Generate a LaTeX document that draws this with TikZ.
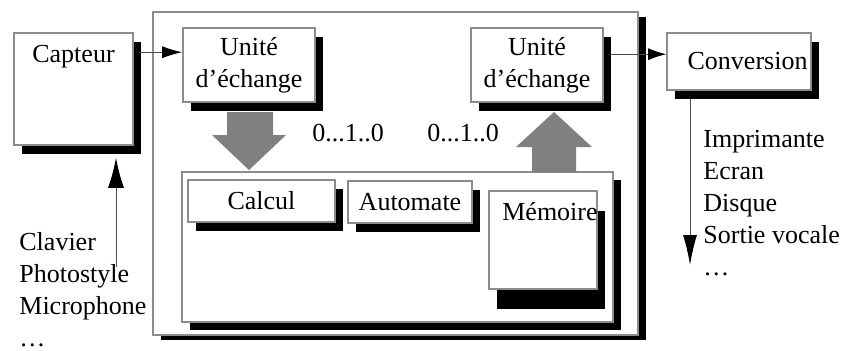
\documentclass[tikz,border=0pt]{standalone}
\usepackage{fontspec}
\setmainfont{Liberation Serif}
\usepackage{tikz}
\usetikzlibrary{arrows.meta, positioning, shadows}

\definecolor{bord}{gray}{0.55}
\definecolor{gros}{gray}{0.5}
\newcommand{\taille}{\fontsize{13}{16}\selectfont}

\tikzset{
  boite/.style   = {draw=bord, line width=0.8pt, fill=white, inner sep=0pt,
                    drop shadow={shadow xshift=4pt, shadow yshift=#1, fill=black, opacity=1}},
  boite/.default = -4.5pt,
  fleche/.style  = {draw=black!70, line width=0.5pt},
  titre/.style   = {inner sep=0pt},
  liste/.style   = {align=left, inner sep=0pt, anchor=north west},
}

\begin{document}
\begin{tikzpicture}[x=0.5pt, y=-0.5pt, every node/.style={font=\taille}]

\useasboundingbox (0,0) rectangle (844,350);

% le calculateur
\node [boite=-2.5pt, minimum width=242.5pt, minimum height=161.5pt] (cadre) at (395.5,173.5) {};
\node [boite=-4pt  , minimum width=215.5pt, minimum height=75pt   ] (unite) at (397.5,247)   {};

\node [boite      , minimum width=73.5pt, minimum height=21pt] (calcul)   at (261.5,201) {Calcul};
\node [boite      , minimum width=62pt  , minimum height=21pt] (automate) at (410,202)   {Automate};
\node [boite=-10pt, minimum width=54pt  , minimum height=49pt,
       label={[titre, anchor=north, yshift=-6pt, xshift=3.5pt]north:Mémoire}] (memoire) at (543,240) {};

\node [boite, minimum width=66pt, minimum height=37pt, align=center] (echg1) at (249,65) {Unité\\d'échange};
\node [boite, minimum width=66pt, minimum height=37pt, align=center] (echg2) at (537,65) {Unité\\d'échange};

% peripheriques
\node [boite, minimum width=59.5pt, minimum height=56pt,
       label={[titre, anchor=north, yshift=-6.5pt]north:Capteur}] (capteur) at (73.5,89) {};
\node [boite, minimum width=72pt, minimum height=28.5pt,
       label={[titre, anchor=west, xshift=10.5pt]west:Conversion}] (conv) at (739,61.5) {};

\node [liste] (entrees) at (19,232)  {Clavier\\Photostyle\\Microphone\\\ldots};
\node [liste] (sorties) at (703,130) {Imprimante\\Ecran\\Disque\\Sortie vocale\\\ldots};

\node (bits1) at (348,133) {0...1..0};
\node (bits2) at (463,133) {0...1..0};

% transferts
\fill [gros] (227,112) -- (273,112) -- (273,135) -- (286,135) -- (249,170) -- (212,135) -- (227,135) -- cycle;
\fill [gros] (532,172) -- (576,172) -- (576,147) -- (592,147) -- (554,112) -- (516,147) -- (532,147) -- cycle;

\coordinate (depart) at ([yshift=-10pt]capteur.north east);
\coordinate (relais) at ([yshift=-13.5pt]echg2.north east);
\coordinate (entree) at (116,267);
\coordinate (sortie) at (690,265);

\path (depart)               edge [fleche, -{Latex[length=10pt, width=6pt, color=black]}, shorten <=2.5pt] (depart -| echg1.west);
\path (relais)               edge [fleche, -{Latex[length=9pt, width=6pt, color=black]} , shorten <=3pt  ] (relais -| conv.west);
\path (entree)               edge [fleche, -{Latex[length=15pt, width=8pt, color=black]}, shorten >=6pt  ] (entree |- capteur.south);
\path (conv.south -| sortie) edge [fleche, -{Latex[length=15pt, width=7pt, color=black]}, shorten <=4pt  ] (sortie);

\end{tikzpicture}
\end{document}
